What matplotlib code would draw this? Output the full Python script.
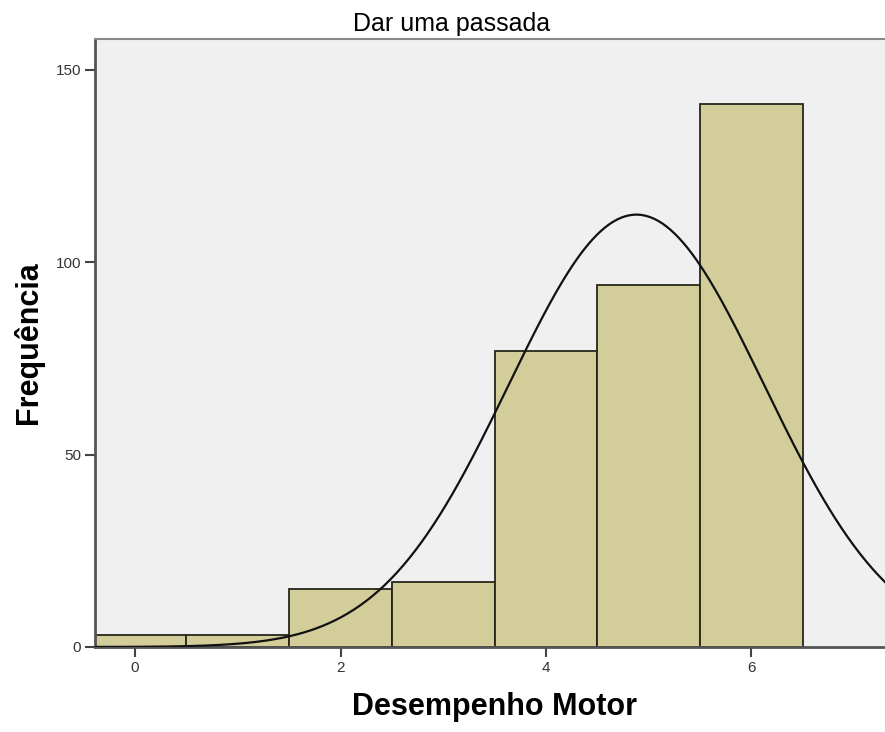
import matplotlib.pyplot as plt
import numpy as np

plt.rcParams['font.family'] = ['Liberation Sans', 'DejaVu Sans']

scores = [0, 1, 2, 3, 4, 5, 6]
counts = [3, 3, 15, 17, 77, 94, 141]
yticks = [0, 50, 100, 150]
xticks = [0, 2, 4, 6]

# curva normal ajustada (como no SPSS): N * largura * pdf
vals = np.repeat(scores, counts)
n = len(vals)
mu = vals.mean()
sd = vals.std(ddof=1)
xs = np.linspace(-0.5, 7.5, 400)
ys = n * 1.0 * np.exp(-0.5 * ((xs - mu) / sd) ** 2) / (sd * np.sqrt(2 * np.pi))

fig = plt.figure(figsize=(8.85, 7.32), dpi=100)
ax = fig.add_axes([95 / 885, 85 / 732, 790 / 885, 608 / 732])
ax.set_facecolor('#f0f0f0')

ax.bar(scores, counts, width=1.0, color='#d3ce99', edgecolor='#26261a', linewidth=1.3, zorder=2)
ax.plot(xs, ys, color='#111111', linewidth=1.6, zorder=3)

ax.set_xlim(-0.39, 7.3)
ax.set_ylim(0, 158)
ax.set_xticks(xticks)
ax.set_yticks(yticks)
ax.tick_params(axis='both', direction='out', length=7, width=1.5, color='#444444',
               labelsize=11, labelcolor='#333333', pad=3)

for s in ['left', 'bottom']:
    ax.spines[s].set_color('#555555')
    ax.spines[s].set_linewidth(2)
ax.spines['top'].set_color('#888888')
ax.spines['top'].set_linewidth(1.5)
ax.spines['right'].set_visible(False)

fig.text(452 / 885, 1 - 31 / 732, 'Dar uma passada', ha='center', va='baseline', fontsize=18)
fig.text(494 / 885, 1 - 715 / 732, 'Desempenho Motor', ha='center', va='baseline',
         fontsize=22, fontweight='bold')
fig.text(29 / 885, 1 - 343 / 732, 'Frequência', ha='center', va='center', rotation=90,
         fontsize=22, fontweight='bold')

fig.savefig('out.png', dpi=100)
